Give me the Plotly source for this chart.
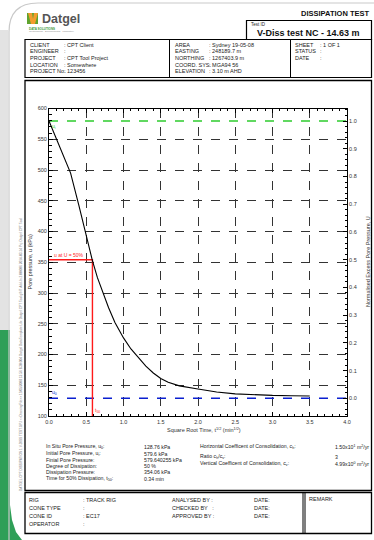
import plotly.graph_objects as go

W, H = 374, 540
FONT = "Liberation Sans, Arial, sans-serif"

# ---------------- data ----------------
sqrt_time = [0.0, 0.29, 0.40, 0.49, 0.58, 0.65, 0.72, 0.80, 0.885, 1.0, 1.1, 1.162,
             1.3, 1.4, 1.5, 1.6, 1.75, 2.0, 2.25, 2.5, 2.75, 3.0, 3.25, 3.5]
pore_pressure = [579.6, 495, 443, 397, 354, 325, 301, 276, 252, 227, 209, 200,
                 181, 170, 161, 155, 149, 144, 139, 136, 134.5, 133.5, 133, 132.5]
u0 = 128.76          # in situ pore pressure
ui = 579.6           # initial pore pressure
u50 = 354.06         # dissipation pressure
t50 = 0.34           # min
x_range = [0.0, 4.0]
y_range = [100, 600]

results_labels = ["In Situ Pore Pressure, u<sub>0</sub>:", "Initial Pore Pressure, u<sub>i</sub>:",
                  "Finial Pore Pressure:", "Degree of Dissipation:", "Dissipation Pressure:",
                  "Time for 50% Dissipation, t<sub>50</sub>:"]
results_values = ["128.76 kPa", "579.6 kPa", "579.640255 kPa", "50 %", "354.06 kPa", "0.34 min"]
coef_labels = ["Horizontal Coefficent of Consolidation, c<sub>h</sub>:", "Ratio c<sub>h</sub>/c<sub>v</sub>:",
               "Vertical Coefficent of Consolidation, c<sub>v</sub>:"]
coef_values = ["1.50x10<sup>1</sup> m<sup>2</sup>/yr", "3", "4.99x10<sup>0</sup> m<sup>2</sup>/yr"]

info_left_labels = ["CLIENT", "ENGINEER", "PROJECT", "LOCATION", "PROJECT No."]
info_left_values = [": CPT Client", ":", ": CPT Tool Project", ": Somewhere", ": 123456"]
info_mid_labels = ["AREA", "EASTING", "NORTHING", "COORD. SYS.", "ELEVATION"]
info_mid_values = [": Sydney 19-05-08", ": 248189.7 m", ": 1267403.9 m", ": MGA94 56", ": 3.10 m AHD"]
info_right_labels = ["SHEET", "STATUS", "DATE"]
info_right_values = [": 1 OF 1", ":", ":"]

foot_labels = ["RIG", "CONE TYPE", "CONE ID", "OPERATOR"]
foot_values = [": TRACK RIG", ":", ": EC17", ":"]
sign_labels = ["ANALYSED BY :", "CHECKED BY   :", "APPROVED BY :"]

# ---------------- helpers ----------------
def px(x):
    return x / W

def py(y):
    return 1 - y / H

shapes = []
annotations = []

def rect(x0, y0, x1, y1, color="black", width=1, fill=None):
    shapes.append(dict(type="rect", xref="paper", yref="paper", x0=px(x0), x1=px(x1),
                       y0=py(y1), y1=py(y0), line=dict(color=color, width=width),
                       fillcolor=fill, layer="below"))

def line(x0, y0, x1, y1, color="black", width=1):
    shapes.append(dict(type="line", xref="paper", yref="paper", x0=px(x0), x1=px(x1),
                       y0=py(y0), y1=py(y1), line=dict(color=color, width=width)))

def text(x, y, s, size=5.5, color="#222", anchor="left", bold=False, angle=0):
    if bold:
        s = "<b>" + s + "</b>"
    annotations.append(dict(x=px(x), y=py(y), xref="paper", yref="paper", text=s,
                            showarrow=False, xanchor=anchor, yanchor="middle",
                            font=dict(family=FONT, size=size, color=color),
                            textangle=angle))

def path(d, fill, color=None, width=0):
    shapes.append(dict(type="path", xref="paper", yref="paper", path=d, fillcolor=fill,
                       line=dict(color=color or fill, width=width), layer="below"))

def pstr(points):
    s = ""
    for i, (x, y) in enumerate(points):
        s += ("M" if i == 0 else "L") + f"{px(x):.5f},{py(y):.5f} "
    return s + "Z"

# ---------------- page decoration ----------------
path(pstr([(0, 30), (8, 30), (8, 540), (0, 540)]), "#e3e3e3")
path(pstr([(0, 330), (10, 330), (10, 505), (12, 520), (16, 532), (22, 540), (0, 540)]), "#2f9f57")
shapes.append(dict(type="path", xref="paper", yref="paper",
                   path=f"M{px(9):.5f},{py(540):.5f} L{px(9):.5f},{py(32):.5f} Q{px(9):.5f},{py(3):.5f} {px(38):.5f},{py(3):.5f} L{px(374):.5f},{py(3):.5f}",
                   line=dict(color="#c9c9c9", width=1.2)))

# rotated footer strip text
strip = ("DATGEL CPT DISSIPATION 1 V-DISS TEST.GPJ <<DrawingFile>> 19/05/2008 13:56 8.30.004 "
         "Datgel DataTemplate Lib: Datgel CPT Tool gINT Add-In 2.00.006 2014-03-14 Prj: Datgel CPT Tool")
text(21, 355, strip, size=3.2, color="#777", anchor="center", angle=-90)

# ---------------- header ----------------
path(pstr([(27, 13), (38, 13), (38, 24), (27, 24)]), "#5fa42e")
path(pstr([(28, 13), (32, 13), (33, 19), (34, 13), (38, 13), (35, 24), (31, 24)]), "#f39c2d")
text(40, 19, "Datgel", size=12.5, color="#555", bold=True)
text(27, 28.5, "DATA SOLUTIONS", size=3, color="#3b9a3b", bold=True)
text(27, 32, "Geotechnical · Environmental · Laboratory", size=2.4, color="#888")
text(371, 14, "DISSIPATION TEST", size=7.5, color="#111", anchor="right", bold=True)
rect(246.5, 20.5, 371.5, 39.5, width=1.2)
text(249, 24.5, "Test ID", size=4.5, color="#222")
text(308.5, 33, "V-Diss test NC - 14.63 m", size=9, color="#111", anchor="center", bold=True)

# info box
rect(25, 39.5, 371.5, 77.5, width=1.2)
line(169.5, 39.5, 169.5, 77.5)
line(290.5, 39.5, 290.5, 77.5)
rows = [45, 51.5, 58, 64.5, 71]
for i in range(5):
    text(27.5, rows[i], info_left_labels[i])
    text(62, rows[i], info_left_values[i])
    text(173, rows[i], info_mid_labels[i])
    text(207, rows[i], info_mid_values[i])
for i in range(3):
    text(293, rows[i], info_right_labels[i])
    text(318, rows[i], info_right_values[i])

# chart box
rect(25, 80.5, 371.5, 490.5, width=1.3)

# results text
res_rows = [447, 453.5, 460, 465.5, 472, 478.5]
for i in range(6):
    text(44, res_rows[i], results_labels[i], size=5.2)
    text(141.5, res_rows[i], results_values[i], size=5.2)
coef_rows = [447, 456.5, 463.5]
for i in range(3):
    text(198, coef_rows[i], coef_labels[i], size=5.2)
    text(333, coef_rows[i], coef_values[i], size=5.2)

# footer box
rect(25, 492.5, 371.5, 533.5, width=1.3)
line(303, 492.5, 303, 533.5, width=1)
line(305, 492.5, 305, 533.5, width=1)
foot_rows = [499.5, 507.5, 515.5, 524]
for i in range(4):
    text(27, foot_rows[i], foot_labels[i])
    text(81, foot_rows[i], foot_values[i])
for i in range(3):
    text(170, foot_rows[i], sign_labels[i])
    text(251.5, foot_rows[i], "DATE:")
text(307, 498.5, "REMARK")

# ---------------- chart ----------------
fig = go.Figure()
GREEN, BLUE, RED = "#2ecc2e", "#0a1fd0", "#ff1a1a"
fig.add_trace(go.Scatter(x=x_range, y=[ui, ui], mode="lines",
                         line=dict(color=GREEN, width=1.4, dash="dash"), hoverinfo="skip"))
fig.add_trace(go.Scatter(x=x_range, y=[u0, u0], mode="lines",
                         line=dict(color=BLUE, width=1.4, dash="dash"), hoverinfo="skip"))
t50_sqrt = t50 ** 0.5
fig.add_trace(go.Scatter(x=[x_range[0], t50_sqrt, t50_sqrt], y=[u50, u50, y_range[0]], mode="lines",
                         line=dict(color=RED, width=1.4), hoverinfo="skip"))
fig.add_trace(go.Scatter(x=sqrt_time, y=pore_pressure, mode="lines",
                         line=dict(color="black", width=1.1)))
fig.add_trace(go.Scatter(x=[x_range[0]], y=[0], yaxis="y2", mode="markers",
                         marker=dict(opacity=0), hoverinfo="skip"))

U_lo = (y_range[0] - u0) / (ui - u0)
U_hi = (y_range[1] - u0) / (ui - u0)

tickfont = dict(family=FONT, size=5.5, color="#333")
X0, X1, Y0, Y1 = 49, 347, 108.5, 416
fig.update_layout(
    width=W, height=H, margin=dict(l=0, r=0, t=0, b=0),
    paper_bgcolor="white", plot_bgcolor="white", showlegend=False,
    xaxis=dict(domain=[px(X0), px(X1)], range=x_range, dtick=0.5, tick0=0, tickformat=".1f",
               ticks="inside", ticklen=4, tickcolor="black", showline=True, linecolor="black",
               linewidth=1, mirror="ticks", showgrid=True, gridcolor="#333", griddash="dash",
               gridwidth=0.9, zeroline=False, tickfont=tickfont, automargin=False,
               minor=dict(dtick=0.1, ticks="inside", ticklen=2.5, tickcolor="black", showgrid=False)),
    yaxis=dict(domain=[py(Y1), py(Y0)], range=y_range, dtick=50, tick0=0,
               ticks="inside", ticklen=4, tickcolor="black", showline=True, linecolor="black",
               linewidth=1, showgrid=True, gridcolor="#333", griddash="dash", gridwidth=0.9,
               zeroline=False, tickfont=tickfont, automargin=False,
               minor=dict(dtick=10, ticks="inside", ticklen=2.5, tickcolor="black", showgrid=False)),
    yaxis2=dict(overlaying="y", side="right", anchor="x", range=[U_lo, U_hi], dtick=0.1, tick0=0,
                tickformat=".1f", ticks="inside", ticklen=4, tickcolor="black", showline=True,
                linecolor="black", linewidth=1, showgrid=False, zeroline=False, tickfont=tickfont,
                automargin=False,
                minor=dict(dtick=0.02, ticks="inside", ticklen=2.5, tickcolor="black", showgrid=False)),
    shapes=shapes,
)

# chart labels
text(29.5, 262, "Pore pressure, u (kPa)", size=5.5, color="#333", anchor="center", angle=-90)
text(368, 262, "Normalised Excess Pore Pressure, U", size=5.5, color="#333", anchor="center", angle=-90)
text(204, 430, "Square Root Time, t<sup>1/2</sup> (min<sup>1/2</sup>)", size=5.5, color="#333", anchor="center")
fig.update_layout(annotations=annotations)

fig.add_annotation(x=0.04, y=u50, xref="x", yref="y", text="u at U = 50%", showarrow=False,
                   xanchor="left", yanchor="bottom",
                   font=dict(family=FONT, size=5, color=RED))
fig.add_annotation(x=t50_sqrt, y=y_range[0], xref="x", yref="y", text="t<sub>50</sub>", showarrow=False,
                   xanchor="left", yanchor="bottom", xshift=1,
                   font=dict(family=FONT, size=5, color=RED))
fig.add_annotation(x=0.02, y=u0, xref="x", yref="y", text="u<sub>0</sub>", showarrow=False,
                   xanchor="left", yanchor="bottom",
                   font=dict(family=FONT, size=5, color=BLUE))
fig.add_annotation(x=0.02, y=ui, xref="x", yref="y", text="u<sub>i</sub>", showarrow=False,
                   xanchor="left", yanchor="top",
                   font=dict(family=FONT, size=5, color=GREEN))

fig.write_html("out.html", config={"displayModeBar": False},
               post_script="document.body.style.margin='0';")
